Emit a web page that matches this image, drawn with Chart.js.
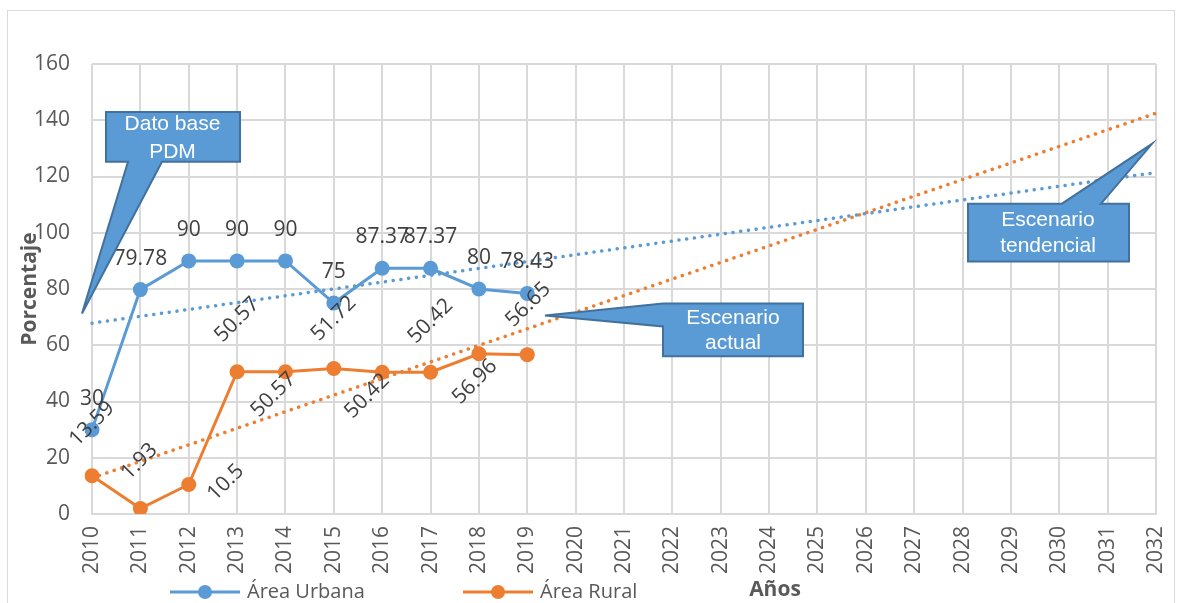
<!DOCTYPE html>
<html><head><meta charset="utf-8">
<script src="https://cdn.jsdelivr.net/npm/chart.js@4/dist/chart.umd.min.js"></script>
<style>html,body{margin:0;padding:0;background:#fff;}#wrap{width:1178px;height:603px;}</style>
</head><body><div id="wrap"><canvas id="c" width="1178" height="603"></canvas></div>
<script>
// ---- data ----
const years = ['2010','2011','2012','2013','2014','2015','2016','2017','2018','2019','2020','2021','2022','2023','2024','2025','2026','2027','2028','2029','2030','2031','2032'];
const urbana = [30, 79.78, 90, 90, 90, 75, 87.37, 87.37, 80, 78.43];
const rural = [13.59, 1.93, 10.5, 50.57, 50.57, 51.72, 50.42, 50.42, 56.96, 56.65];
const urbanaTrendEnds = [67.85, 121.4];   // trendline values read at 2010 and 2032
const ruralTrendEnds = [12.8, 142.5];
const yTicks = [0, 20, 40, 60, 80, 100, 120, 140, 160];
const seriesNames = ['Área Urbana', 'Área Rural'];

const BLUE = '#5b9bd5', ORANGE = '#ed7d31', GRID = '#d9d9d9', TXT = '#595959', LBL = '#404040';
const FONT = '"Open Sans", Lato, sans-serif';

function trendSeries(ends) {
  const a = years.map(() => null);
  a[0] = ends[0]; a[years.length - 1] = ends[1];
  return a;
}

// callouts expressed in data space (category index, value)
const callouts = [
  { lines: ['Dato base', 'PDM'], tx: 1.664, ty: [138.5, 128.6],
    pts: [[0.289,142.97],[3.060,142.97],[3.060,125.23],[1.447,125.23],[-0.207,71.3],[0.744,125.23],[0.289,125.23]] },
  { lines: ['Escenario', 'actual'], tx: 13.254, ty: [69.53, 60.66],
    pts: [[11.806,74.86],[14.701,74.86],[14.701,56.05],[11.806,56.05],[11.806,66.70],[9.366,70.60]] },
  { lines: ['Escenario', 'tendencial'], tx: 19.767, ty: [104.30, 95.08],
    pts: [[18.113,110.33],[20.056,110.33],[21.917,131.62],[20.863,110.33],[21.442,110.33],[21.442,89.76],[18.113,89.76]] }
];

// label offsets (px) for the rotated rural labels, as placed in the original
const ruralLabelOffsets = [[0,-52],[-1,-47],[37,-2],[0,-52],[-12,23],[0,-50],[-15,24],[0,-51],[-4,28],[1,-50]];

const decor = {
  id: 'decor',
  beforeDraw(chart) {
    const ctx = chart.ctx;
    ctx.save();
    ctx.fillStyle = '#fff';
    ctx.fillRect(0, 0, chart.width, chart.height);
    ctx.strokeStyle = GRID; ctx.lineWidth = 1;
    ctx.strokeRect(7.5, 10.5, 1167, 610);
    ctx.restore();
  },
  afterDatasetsDraw(chart) {
    const ctx = chart.ctx;
    ctx.save();
    ctx.fillStyle = LBL;
    ctx.font = '21px ' + FONT;
    ctx.textAlign = 'center'; ctx.textBaseline = 'middle';
    const m0 = chart.getDatasetMeta(0);
    m0.data.forEach((p, i) => {
      ctx.fillText(String(urbana[i]), p.x, p.y - 31);
    });
    const m1 = chart.getDatasetMeta(1);
    m1.data.forEach((p, i) => {
      const o = ruralLabelOffsets[i];
      ctx.save();
      ctx.translate(p.x + o[0], p.y + o[1]);
      ctx.rotate(-Math.PI / 4);
      ctx.fillText(String(rural[i]), 0, 0);
      ctx.restore();
    });
    ctx.restore();
  },
  afterDraw(chart) {
    const ctx = chart.ctx;
    const xs = chart.scales.x, ys = chart.scales.y;
    ctx.save();
    // callouts
    callouts.forEach(c => {
      ctx.beginPath();
      c.pts.forEach((pt, i) => {
        const X = xs.getPixelForValue(pt[0]), Y = ys.getPixelForValue(pt[1]);
        if (i === 0) ctx.moveTo(X, Y); else ctx.lineTo(X, Y);
      });
      ctx.closePath();
      ctx.fillStyle = BLUE; ctx.fill();
      ctx.strokeStyle = '#41719c'; ctx.lineWidth = 2; ctx.lineJoin = 'miter'; ctx.stroke();
      ctx.fillStyle = '#fff';
      ctx.font = '21px "Liberation Sans Narrow", "Liberation Sans", Arial, sans-serif';
      ctx.textAlign = 'center'; ctx.textBaseline = 'middle';
      c.lines.forEach((t, k) => ctx.fillText(t, xs.getPixelForValue(c.tx), ys.getPixelForValue(c.ty[k])));
    });
    // legend
    const legendY = 592;
    const items = [{x: 170, color: BLUE, name: seriesNames[0]}, {x: 463, color: ORANGE, name: seriesNames[1]}];
    items.forEach(it => {
      ctx.strokeStyle = it.color; ctx.lineWidth = 3; ctx.lineCap = 'butt';
      ctx.beginPath(); ctx.moveTo(it.x, legendY); ctx.lineTo(it.x + 70, legendY); ctx.stroke();
      ctx.fillStyle = it.color;
      ctx.beginPath(); ctx.arc(it.x + 35, legendY, 7, 0, Math.PI * 2); ctx.fill();
      ctx.fillStyle = TXT; ctx.font = '20px ' + FONT;
      ctx.textAlign = 'left'; ctx.textBaseline = 'middle';
      ctx.fillText(it.name, it.x + 77, legendY);
    });
    // x axis title
    ctx.fillStyle = TXT; ctx.font = 'bold 21px ' + FONT;
    ctx.textAlign = 'center'; ctx.textBaseline = 'middle';
    ctx.fillText('Años', 775, 590);
    ctx.restore();
  }
};

const trendStyle = { borderWidth: 3.5, borderDash: [0.1, 7.7], borderCapStyle: 'round', pointRadius: 0, pointHoverRadius: 0, spanGaps: true, fill: false };

new Chart(document.getElementById('c'), {
  type: 'line',
  data: {
    labels: years,
    datasets: [
      { label: seriesNames[0], data: urbana, borderColor: BLUE, backgroundColor: BLUE, borderWidth: 3,
        pointRadius: 7.5, pointBorderWidth: 0, pointBackgroundColor: BLUE, tension: 0 },
      { label: seriesNames[1], data: rural, borderColor: ORANGE, backgroundColor: ORANGE, borderWidth: 3,
        pointRadius: 7.5, pointBorderWidth: 0, pointBackgroundColor: ORANGE, tension: 0 },
      Object.assign({ label: 'Tendencia urbana', data: trendSeries(urbanaTrendEnds), borderColor: BLUE }, trendStyle),
      Object.assign({ label: 'Tendencia rural', data: trendSeries(ruralTrendEnds), borderColor: ORANGE }, trendStyle)
    ]
  },
  options: {
    responsive: false, animation: false, devicePixelRatio: 1,
    layout: { padding: { left: 8, right: 22, top: 64, bottom: 25 } },
    plugins: { legend: { display: false }, tooltip: { enabled: false } },
    scales: {
      x: {
        type: 'category', offset: false,
        grid: { color: GRID, lineWidth: 2, drawTicks: false },
        border: { color: GRID, width: 2 },
        ticks: { autoSkip: false, minRotation: 90, maxRotation: 90, padding: 12, color: TXT, font: { family: FONT, size: 21 } },
        afterFit: s => { s.height = 64; s.paddingLeft = 0; s.paddingRight = 0; }
      },
      y: {
        min: 0, max: 160,
        afterBuildTicks: s => { s.ticks = yTicks.map(v => ({ value: v })); },
        grid: { color: GRID, lineWidth: 2, drawTicks: false },
        border: { display: false },
        ticks: { padding: 22, color: TXT, font: { family: FONT, size: 21 } },
        title: { display: true, text: 'Porcentaje', color: TXT, font: { family: FONT, size: 21, weight: 'bold' }, padding: { top: 9, bottom: 0 } },
        afterFit: s => { s.width = 84; s.paddingTop = 0; s.paddingBottom = 0; }
      }
    }
  },
  plugins: [decor]
});
</script>
</body></html>
